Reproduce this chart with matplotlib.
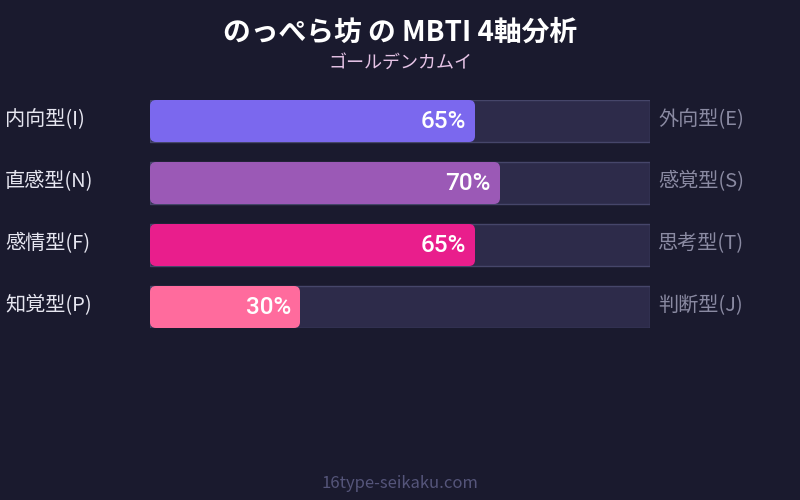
import matplotlib
matplotlib.use("Agg")
import matplotlib.pyplot as plt
from matplotlib.patches import FancyBboxPatch, Rectangle

plt.rcParams['font.family'] = ['Noto Sans CJK JP', 'DejaVu Sans']

title = "のっぺら坊 の MBTI 4軸分析"
subtitle = "ゴールデンカムイ"
footer = "16type-seikaku.com"
left_labels = ["内向型(I)", "直感型(N)", "感情型(F)", "知覚型(P)"]
right_labels = ["外向型(E)", "感覚型(S)", "思考型(T)", "判断型(J)"]
values = [65, 70, 65, 30]
colors = ["#7b68ee", "#9b59b6", "#e91e8c", "#ff6b9d"]

bg = "#1a1a2e"
W, H = 800, 500
fig = plt.figure(figsize=(8, 5), dpi=100, facecolor=bg)

# bar area: x 150..650 px, y 100..328 px
bh = 42 / 62
ax = fig.add_axes([150 / W, 1 - 328 / H, 500 / W, 228 / H])
ax.set_xlim(0, 100)
ax.set_ylim(len(values) - 1 + bh / 2, -bh / 2)
ax.axis("off")
ax.patch.set_alpha(0)

aspect = (1 / 62) / (1 / 5)
for i, (v, c) in enumerate(zip(values, colors)):
    ax.add_patch(Rectangle((0, i - bh / 2), 100, bh, facecolor="#2d2b4a",
                           edgecolor="#46466a", linewidth=1))
    ax.add_patch(FancyBboxPatch((0, i - bh / 2), v, bh,
                                boxstyle="round,pad=0,rounding_size=1.2",
                                mutation_aspect=aspect,
                                facecolor=c, edgecolor="none"))
    ax.text(v - 1.8, i, f"{v}%", ha="right", va="center", color="white",
            fontsize=17.5, fontweight="medium", family=["Roboto", "DejaVu Sans"])
    fig.text(5 / W, 1 - (120 + 62 * i) / H, left_labels[i], ha="left",
             va="center", color="#e6e6f0", fontsize=14.5)
    fig.text(658 / W, 1 - (120 + 62 * i) / H, right_labels[i], ha="left",
             va="center", color="#8a8aa2", fontsize=14.5)

fig.text(0.5, 1 - 33 / H, title, ha="center", va="center", color="white",
         fontsize=20, fontweight="bold")
fig.text(0.5, 1 - 63 / H, subtitle, ha="center", va="center",
         color="#e6c3e6", fontsize=13)
fig.text(0.5, 1 - 484 / H, footer, ha="center", va="center",
         color="#55557a", fontsize=12)

fig.savefig("out.png", facecolor=bg)
